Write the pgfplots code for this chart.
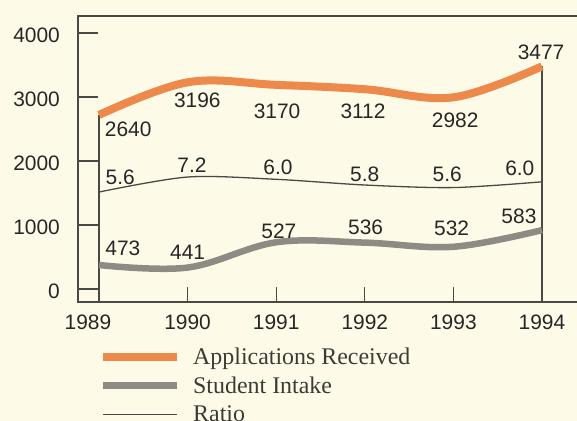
\documentclass[border=0pt]{standalone}
\usepackage{pgfplots}
\pgfplotsset{compat=1.18}
\usepackage{fontspec}
\setmainfont{Liberation Serif}
\newfontfamily\sansf{Liberation Sans}
\definecolor{bg}{HTML}{FDFBE8}
\definecolor{appl}{HTML}{EE894C}
\definecolor{intk}{HTML}{8E8B85}
\definecolor{frm}{HTML}{4A4A44}
\definecolor{txt}{HTML}{262626}
\definecolor{legtxt}{HTML}{3D3A35}
\begin{document}
\begin{tikzpicture}
\path[use as bounding box, fill=bg] (0,0) rectangle (577bp,421bp);
\clip (0,0) rectangle (577bp,421bp);
\begin{axis}[
  at={(78bp,119bp)}, anchor=south west,
  scale only axis, width=505bp, height=286bp,
  xmin=1988.763, xmax=1994.463, ymin=-203, ymax=4266,
  axis line style={draw=frm, line width=1.4bp},
  tick align=inside, xtick pos=bottom, ytick pos=left,
  major tick length=20bp,
  tick style={draw=frm, line width=1.2bp},
  xtick style={/pgfplots/major tick length=15bp},
  xtick={1989,1990,1991,1992,1993,1994},
  xticklabels={\hspace*{-22bp}1989,1990,1991,1992,1993,1994},
  ytick={0,1000,2000,3000,4000},
  /pgf/number format/assume math mode=true,
  /pgf/number format/1000 sep={},
  ticklabel style={font=\sansf\fontsize{21}{21}\selectfont, text=txt},
  xticklabel style={anchor=north, inner sep=0pt, yshift=-13bp},
  yticklabel style={anchor=east, inner sep=0pt, xshift=-18bp, yshift=-2bp},
  every node near coord/.append style={anchor=center, inner sep=0pt, font=\sansf\fontsize{21}{21}\selectfont, text=txt},
  legend style={at={(0.0416,-0.16)}, anchor=north west, draw=none, fill=none,
    inner sep=0pt, column sep=12bp, row sep=0pt,
    font=\fontsize{24}{24}\selectfont, text=legtxt,
    nodes={inner sep=0pt, text height=17bp, text depth=11.5bp}},
  legend cell align=left,
  legend image code/.code={\draw[#1] (0bp,5bp) -- (74bp,5bp);},
  clip=false,
]
% vertical lines at the ends
\addplot[frm, line width=1.4bp, forget plot] coordinates {(1989,-203) (1989,2720)};
\addplot[frm, line width=1.4bp, forget plot] coordinates {(1994,-203) (1994,3480)};
% series
\addplot[appl, line width=8bp, smooth, tension=0.6] coordinates {
  (1989,2720) (1990,3230) (1991,3190) (1992,3122) (1993,2995) (1994,3480)};
\addlegendentry{Applications Received}
\addplot[intk, line width=6.5bp, smooth, tension=0.6] coordinates {
  (1989,375) (1990,335) (1991,730) (1992,725) (1993,660) (1994,920)};
\addlegendentry{Student Intake}
\addplot[frm, line width=1.3bp, smooth, tension=0.5] coordinates {
  (1989,1515) (1990,1750) (1991,1714) (1992,1625) (1993,1585) (1994,1675)};
\addlegendentry{Ratio}
% value labels
\addplot[draw=none, forget plot, nodes near coords, point meta=explicit symbolic]
  table[meta=lab] {
x y lab
1989.33 2500 2640
1990.11 2953 3196
1991.01 2781 3170
1991.98 2781 3112
1993.02 2640 2982
1993.99 3703 3477
1989.24 1750 5.6
1990.05 1937 7.2
1991.02 1906 6.0
1992.00 1797 5.8
1992.93 1797 5.6
1993.75 1890 6.0
1989.27 640 473
1990.00 578 441
1991.03 906 527
1992.01 969 536
1992.98 953 532
1993.74 1140 583
};
\end{axis}
\end{tikzpicture}
\end{document}
